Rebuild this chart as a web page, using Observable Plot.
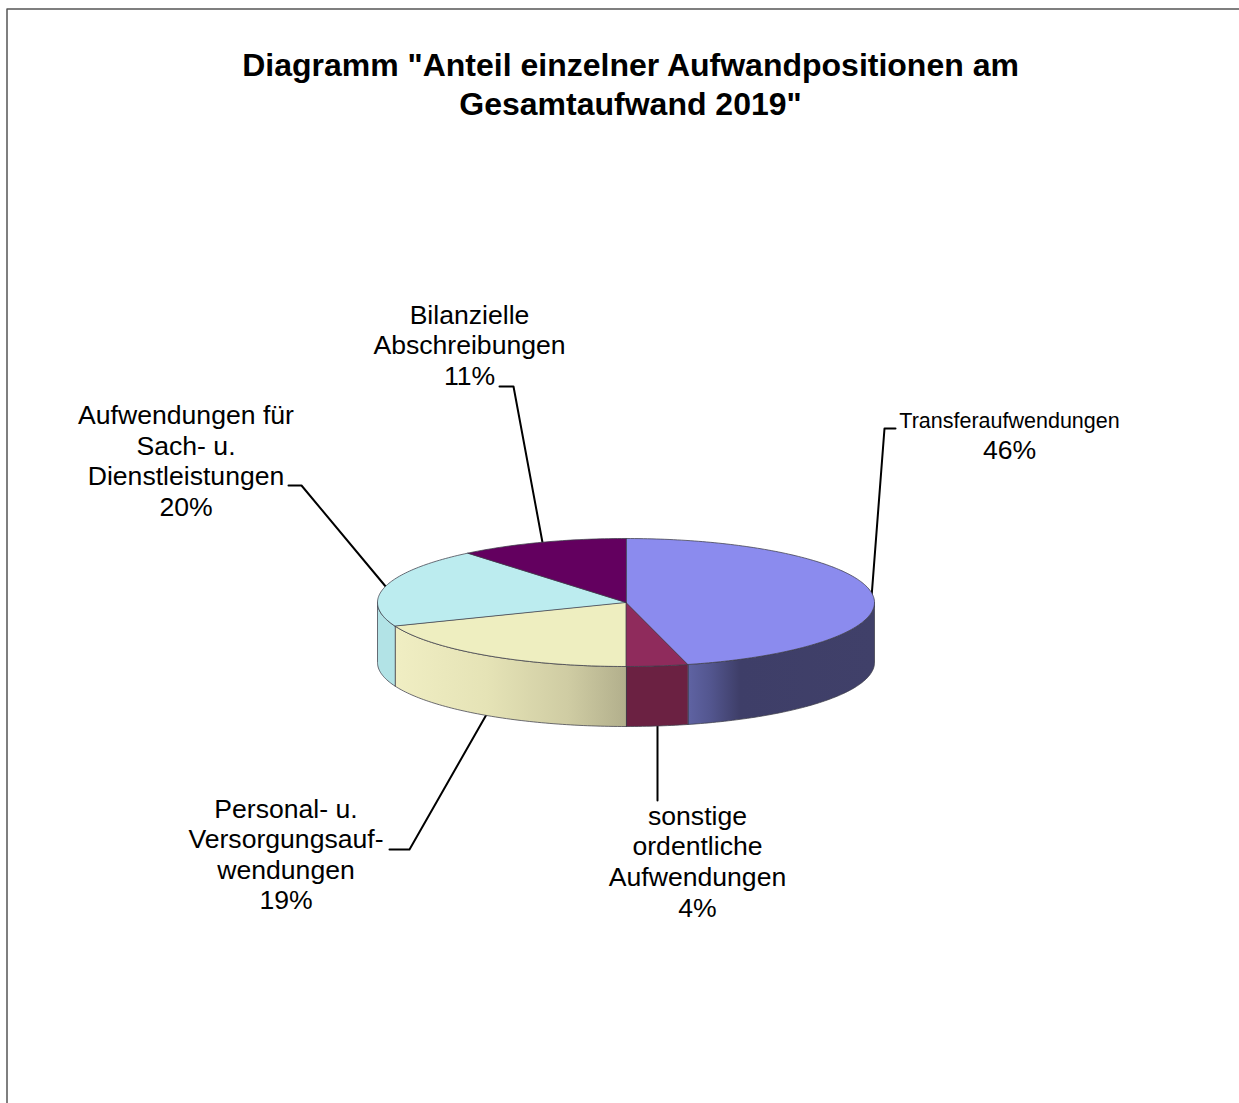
<!DOCTYPE html>
<html><head><meta charset="utf-8">
<script src="https://cdn.jsdelivr.net/npm/d3@7"></script>
<script src="https://cdn.jsdelivr.net/npm/@observablehq/plot@0.6"></script>
<style>html,body{margin:0;padding:0;background:#fff}svg{display:block}</style>
</head><body><div id="chart"></div>
<script>
// Data
const categories = ["Transferaufwendungen","sonstige ordentliche Aufwendungen","Personal- u. Versorgungsaufwendungen","Aufwendungen für Sach- u. Dienstleistungen","Bilanzielle Abschreibungen"];
const shares = [46,4,19,20,11];
// Styles
const topColors = ["#8b8bee","#8f2b5c","#eeeec0","#bcecef","#63005f"];
const sideFills = ["url(#sideBlue)","#6b2142","url(#sideYellow)","#b2e3e6",null];
// Text
const titleLines = ['Diagramm "Anteil einzelner Aufwandpositionen am','Gesamtaufwand 2019"'];
const titleX = [630,630], titleY = [65,104];
const labelLines = [
  ["Bilanzielle",469,315],["Abschreibungen",469,345],["11%",469,376],
  ["Aufwendungen für",185.5,415],["Sach- u.",185.5,446],["Dienstleistungen",185.5,476],["20%",185.5,507],
  ["Personal- u.",285.5,809],["Versorgungsauf-",285.5,839],["wendungen",285.5,870],["19%",285.5,900],
  ["sonstige",697,816],["ordentliche",697,846],["Aufwendungen",697,877],["4%",697,908],
  ["46%",1009,450]
];
const smallLabel = [["Transferaufwendungen",1009,421]];
const leaders = [
  [[871,597],[884,428],[895,428]],
  [[657,725],[657,800]],
  [[486,714],[409,849],[389,849]],
  [[386,587],[301,485],[288,485]],
  [[542,542],[513,386],[499,386]]
];
const frame = [[6.5,1103],[6.5,8.5],[1239,8.5]];

// Pie geometry
const cx = 625.5, cy = 602, rx = 248.5, ry = 64, depth = 60;
const pt = (deg, dy = 0) => {
  const a = deg * Math.PI / 180;
  return [cx + rx * Math.sin(a), cy - ry * Math.cos(a) + dy];
};
const arc = (a0, a1, dy = 0) => {
  const n = Math.max(1, Math.ceil(Math.abs(a1 - a0)));
  return d3.range(n + 1).map(i => pt(a0 + (a1 - a0) * i / n, dy));
};
const total = d3.sum(shares);
let acc = 0;
const slices = shares.map((v, i) => {
  const a0 = acc; acc += v / total * 360;
  return {a0, a1: acc, i};
});

const edge = "#3d3d4a";
const polyMark = (pts, fill, extra = {}) => Plot.line(pts, {
  x: d => d[0], y: d => d[1], curve: "linear-closed",
  fill, stroke: edge, strokeWidth: 1, strokeOpacity: 0.75, strokeLinejoin: "round", ...extra
});

const sides = slices.flatMap(s => {
  const a0 = Math.max(s.a0, 90), a1 = Math.min(s.a1, 270);
  if (a1 <= a0 || !sideFills[s.i]) return [];
  return [polyMark([...arc(a0, a1), ...arc(a1, a0, depth)], sideFills[s.i])];
});
const tops = slices.map(s => polyMark([[cx, cy], ...arc(s.a0, s.a1)], topColors[s.i]));

const gradient = (id, stops) => {
  const g = d3.create("svg:linearGradient").attr("id", id);
  stops.forEach(([o, c]) => g.append("stop").attr("offset", o).attr("stop-color", c));
  return g.node();
};
const defs = () => {
  const d = d3.create("svg:defs");
  d.append(() => gradient("sideBlue", [[0,"#5f63a3"],[0.12,"#53568f"],[0.28,"#3e3e68"],[1,"#404069"]]));
  d.append(() => gradient("sideYellow", [[0,"#f0eec3"],[0.4,"#e5e3b6"],[0.75,"#cfcca3"],[1,"#b2af8c"]]));
  return d.node();
};

const font = "Liberation Sans, Arial, sans-serif";
const chart = Plot.plot({
  width: 1239, height: 1103, margin: 0,
  x: {domain: [0,1239], range: [0,1239], axis: null},
  y: {domain: [0,1103], range: [0,1103], axis: null},
  style: {background: "#fff", fontFamily: font},
  marks: [
    defs,
    Plot.line(frame, {x: d => d[0], y: d => d[1], stroke: "#555", strokeWidth: 1.5}),
    ...leaders.map(l => Plot.line(l, {x: d => d[0], y: d => d[1], stroke: "#000", strokeWidth: 2})),
    ...sides,
    ...tops,
    Plot.text(titleLines, {x: (d,i) => titleX[i], y: (d,i) => titleY[i], text: d => d, fontSize: 32, fontWeight: "bold", fill: "#000", fontFamily: font}),
    Plot.text(labelLines, {x: d => d[1], y: d => d[2], text: d => d[0], fontSize: 26.6, fill: "#000", fontFamily: font}),
    Plot.text(smallLabel, {x: d => d[1], y: d => d[2], text: d => d[0], fontSize: 21.5, fill: "#000", fontFamily: font})
  ]
});
document.getElementById("chart").append(chart);
</script></body></html>
